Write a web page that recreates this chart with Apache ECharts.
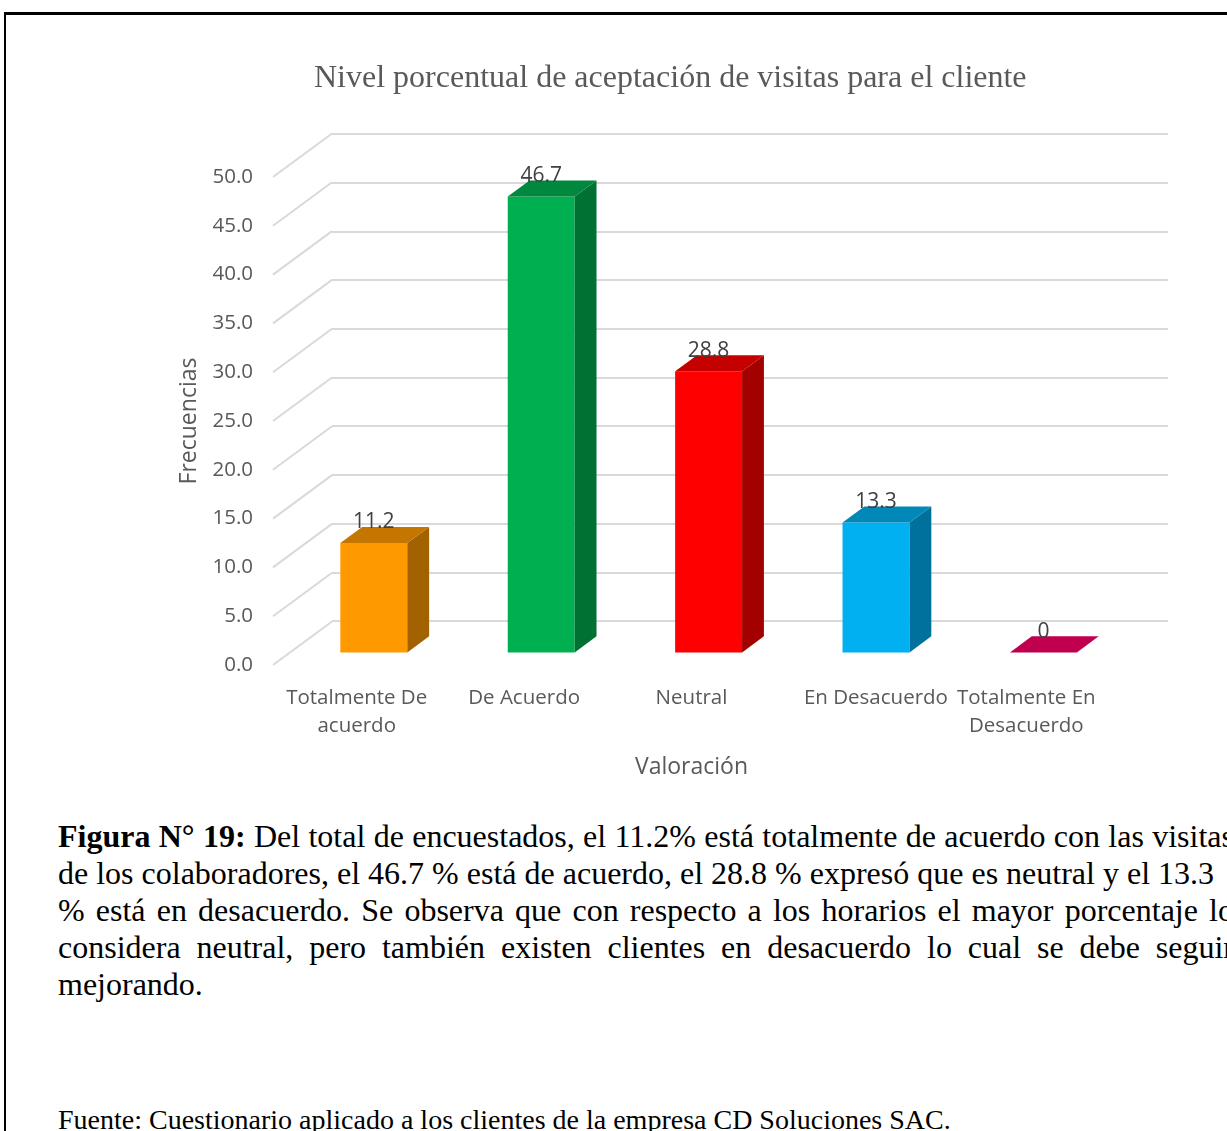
<!DOCTYPE html>
<html>
<head>
<meta charset="utf-8">
<script src="https://cdn.jsdelivr.net/npm/echarts@6/dist/echarts.min.js"></script>
<style>
  html, body { margin:0; padding:0; background:#fff; width:1227px; height:1131px; overflow:hidden; }
  #frame { position:absolute; left:4px; top:12px; width:1300px; height:1200px; border-top:3px solid #000; border-left:2px solid #000; box-sizing:border-box; }
  #chart { position:absolute; left:0; top:0; width:1227px; height:800px; }
  #caption { position:absolute; left:58px; top:818px; width:1176px; font-family:"Liberation Serif","Times New Roman",serif; font-size:32px; line-height:37px; color:#000; }
  #caption div { white-space:nowrap; height:37px; }
  #caption .j { text-align:justify; text-align-last:justify; }
  #source { position:absolute; left:58px; top:1101px; font-family:"Liberation Serif","Times New Roman",serif; font-size:28px; line-height:37px; color:#000; white-space:nowrap; }
</style>
</head>
<body>
<div id="frame"></div>
<div id="chart"></div>
<div id="caption">
  <div class="j"><b>Figura N° 19:</b> Del total de encuestados, el 11.2% está totalmente de acuerdo con las visitas</div>
  <div>de los colaboradores, el 46.7 % está de acuerdo, el 28.8 % expresó que es neutral y el 13.3</div>
  <div class="j">% está en desacuerdo. Se observa que con respecto a los horarios el mayor porcentaje lo</div>
  <div class="j">considera neutral, pero también existen clientes en desacuerdo lo cual se debe seguir</div>
  <div>mejorando.</div>
</div>
<div id="source">Fuente: Cuestionario aplicado a los clientes de la empresa CD Soluciones SAC.</div>
<script>
// ---- data ----
var categories = ['Totalmente De\nacuerdo', 'De Acuerdo', 'Neutral', 'En Desacuerdo', 'Totalmente En\nDesacuerdo'];
var values = [11.2, 46.7, 28.8, 13.3, 0];
var valueLabels = ['11.2', '46.7', '28.8', '13.3', '0'];
var barColors = ['#FF9900', '#00B050', '#FF0000', '#00B0F0', '#C0004E'];
var yTicks = [0, 5, 10, 15, 20, 25, 30, 35, 40, 45, 50];

// ---- 3D look constants ----
var DX = 59, DY = -43.5;      // floor depth vector
var F0 = 0.29, F1 = 0.66;     // bar depth position (fraction of floor depth)
var BAR_W = 0.4;              // bar width as fraction of category band

function shade(hex, k) {
  var n = parseInt(hex.slice(1), 16);
  var r = Math.round(((n >> 16) & 255) * k), g = Math.round(((n >> 8) & 255) * k), b = Math.round((n & 255) * k);
  return 'rgb(' + r + ',' + g + ',' + b + ')';
}

var chart = echarts.init(document.getElementById('chart'), null, { renderer: 'canvas' });

var option = {
  animation: false,
  backgroundColor: 'transparent',
  title: {
    text: 'Nivel porcentual de aceptación de visitas para el cliente',
    left: 309, top: 58, itemGap: 0,
    textStyle: { fontFamily: 'Liberation Serif', fontSize: 32, fontWeight: 'normal', color: '#595959' }
  },
  grid: [
    { left: 332, top: 134, width: 836, height: 487, containLabel: false },   // back wall
    { left: 273, top: 177, width: 837, height: 488, containLabel: false }    // front plane
  ],
  xAxis: [
    { type: 'category', gridIndex: 0, data: categories, show: false },
    {
      type: 'category', gridIndex: 1, data: categories,
      axisLine: { show: false }, axisTick: { show: false },
      axisLabel: {
        interval: 0, margin: 19, fontFamily: 'Open Sans', fontSize: 20.5, lineHeight: 28, color: '#595959',
        formatter: function (v, i) { return i === 3 ? '{s|' + v + '}' : v; },
        rich: { s: { padding: [0, 0, 0, 34], fontFamily: 'Open Sans', fontSize: 20.5, lineHeight: 28, color: '#595959' } }
      },
      name: 'Valoración', nameLocation: 'middle', nameGap: 91,
      nameTextStyle: { fontFamily: 'Open Sans', fontSize: 23, color: '#595959' }
    }
  ],
  yAxis: [
    {
      type: 'value', gridIndex: 0, min: 0, max: 50, interval: 5,
      axisLine: { show: false }, axisTick: { show: false }, axisLabel: { show: false },
      splitLine: { show: true, lineStyle: { color: '#D9D9D9', width: 2 } }
    },
    {
      type: 'value', gridIndex: 1, min: 0, max: 50, interval: 5,
      axisLine: { show: false }, axisTick: { show: false },
      splitLine: { show: false },
      axisLabel: { margin: 20, padding: [6, 0, 0, 0], fontFamily: 'Open Sans', fontSize: 20.5, color: '#595959', formatter: function (v) { return v.toFixed(1); } },
      name: 'Frecuencias', nameLocation: 'middle', nameGap: 72,
      nameTextStyle: { fontFamily: 'Open Sans', fontSize: 23, color: '#595959' }
    }
  ],
  series: [
    {
      // diagonal side-wall/floor lines linking front plane to back wall
      type: 'custom', xAxisIndex: 1, yAxisIndex: 1, silent: true, z: 1,
      data: yTicks.map(function (t) { return [0, t]; }),
      renderItem: function (params, api) {
        var y = api.coord([0, api.value(1)])[1];
        var x = params.coordSys.x;
        return {
          type: 'line',
          shape: { x1: x, y1: y, x2: x + DX, y2: y + DY },
          style: { stroke: '#D9D9D9', lineWidth: 2 }
        };
      }
    },
    {
      type: 'custom', xAxisIndex: 1, yAxisIndex: 1, z: 5,
      data: values.map(function (v, i) { return [i, v]; }),
      renderItem: function (params, api) {
        var i = api.value(0), v = api.value(1);
        var top = api.coord([i, v]);
        var base = api.coord([i, 0]);
        var bw = api.size([1, 0])[0];
        var w = bw * BAR_W;
        var x0 = top[0] - w / 2 + F0 * DX;
        var yT = top[1] + F0 * DY;
        var yB = base[1] + F0 * DY;
        var sdx = (F1 - F0) * DX, sdy = (F1 - F0) * DY;
        var col = barColors[i];
        var children = [];
        if (yB - yT > 0.5) {
          children.push({ type: 'rect', shape: { x: x0, y: yT, width: w, height: yB - yT }, style: { fill: col } });
          children.push({ type: 'polygon', shape: { points: [[x0 + w, yB], [x0 + w, yT], [x0 + w + sdx, yT + sdy], [x0 + w + sdx, yB + sdy]] }, style: { fill: shade(col, 0.64) } });
        }
        children.push({ type: 'polygon', shape: { points: [[x0, yT], [x0 + w, yT], [x0 + w + sdx, yT + sdy], [x0 + sdx, yT + sdy]] }, style: { fill: (v === 0 ? col : shade(col, 0.77)) } });
        children.push({
          type: 'text', z2: 10,
          style: {
            text: valueLabels[i], x: x0 + w / 2, y: yT + sdy + 6,
            align: 'center', verticalAlign: 'bottom',
            fontFamily: 'Open Sans', fontSize: 21, fill: '#404040'
          }
        });
        return { type: 'group', children: children };
      }
    }
  ]
};
chart.setOption(option);
</script>
</body>
</html>
